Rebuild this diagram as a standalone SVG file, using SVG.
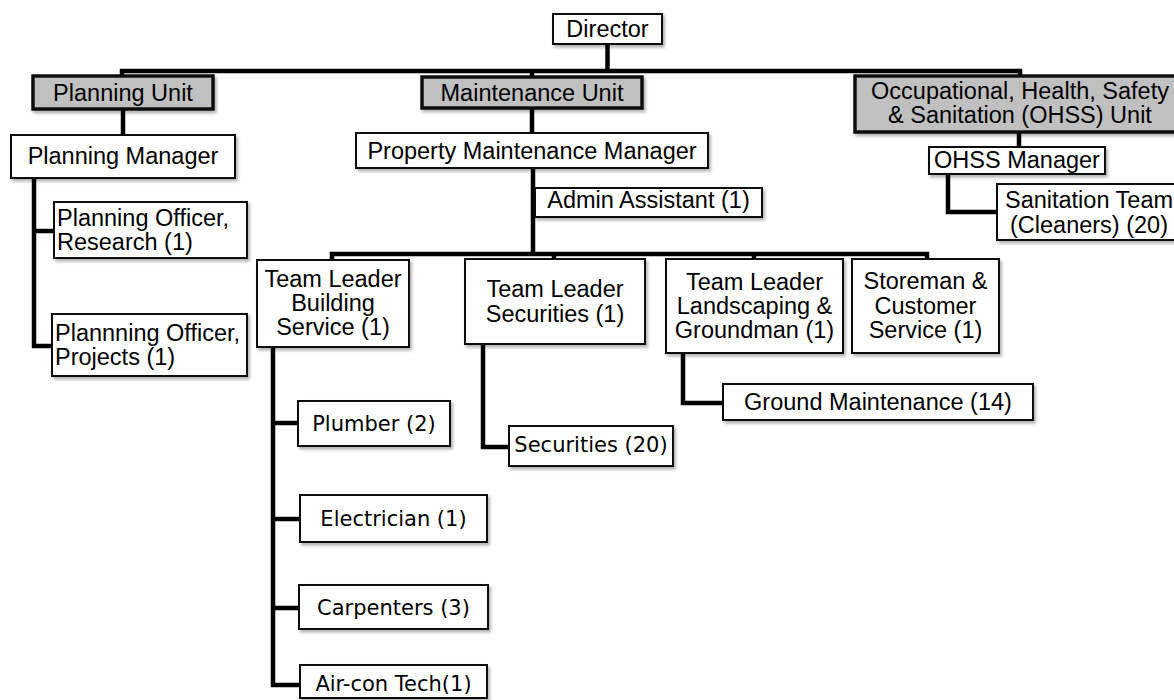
<svg xmlns="http://www.w3.org/2000/svg" width="1174" height="700" viewBox="0 0 1174 700">
<defs>
<filter id="sh" x="-10%" y="-10%" width="130%" height="140%">
<feDropShadow dx="2" dy="2.5" stdDeviation="1.5" flood-color="#000" flood-opacity="0.3"/>
</filter>
<style>
.box{fill:#fff;stroke:#111;stroke-width:2;filter:url(#sh)}
.unit{fill:#c0c0c0;stroke:#111;stroke-width:3.5;filter:url(#sh)}
.t{font-family:"Liberation Sans",Arial,sans-serif;font-size:23.5px;fill:#000;text-anchor:middle}
.l{text-anchor:start}
.j{font-family:"DejaVu Sans",Verdana,sans-serif;font-size:21px;fill:#000;text-anchor:middle}
.c{fill:none;stroke:#000;stroke-width:4.5;stroke-linejoin:miter;stroke-linecap:butt}
</style>
</defs>
<rect width="1174" height="700" fill="#fff"/>
<g id="connectors">
<path class="c" d="M607.5 44 V71"/>
<path class="c" d="M122 77 V71 H1020 V77"/>
<path class="c" d="M532 71 V78"/>
<path class="c" d="M123 109 V135"/>
<path class="c" d="M34 178 V346 H53"/>
<path class="c" d="M34 231 H55"/>
<path class="c" d="M532 108 V133"/>
<path class="c" d="M533 168 V254"/>
<path class="c" d="M332 260 V254 H927 V259"/>
<path class="c" d="M554 254 V259"/>
<path class="c" d="M754 254 V259"/>
<path class="c" d="M273 347 V685 H300"/>
<path class="c" d="M273 423 H298"/>
<path class="c" d="M273 519 H300"/>
<path class="c" d="M273 608 H299"/>
<path class="c" d="M483 344 V447 H509"/>
<path class="c" d="M683 353 V403 H723"/>
<path class="c" d="M1019 132 V147"/>
<path class="c" d="M948 174 V212 H997"/>
</g>
<g id="director"><rect class="box" x="553" y="14" width="109" height="30"/><text class="t" x="607.5" y="37">Director</text></g>
<g id="planning-unit"><rect class="unit" x="33" y="76" width="180" height="33"/><text class="t" x="123" y="101">Planning Unit</text></g>
<g id="maintenance-unit"><rect class="unit" x="422" y="77" width="220" height="31"/><text class="t" x="532" y="101">Maintenance Unit</text></g>
<g id="ohss-unit"><rect class="unit" x="855" y="76" width="332" height="56"/><text class="t" x="1020" y="99">Occupational, Health, Safety</text><text class="t" x="1020" y="123">&amp; Sanitation (OHSS) Unit</text></g>
<g id="planning-manager"><rect class="box" x="11" y="135" width="224" height="43"/><text class="t" x="123" y="164">Planning Manager</text></g>
<g id="officer-research"><rect class="box" x="54" y="202" width="193" height="56"/><text class="t l" x="57" y="226">Planning Officer,</text><text class="t l" x="57" y="250">Research (1)</text></g>
<g id="officer-projects"><rect class="box" x="52" y="314" width="195" height="62"/><text class="t l" x="55" y="341">Plannning Officer,</text><text class="t l" x="55" y="365">Projects (1)</text></g>
<g id="pmm"><rect class="box" x="356" y="133" width="352" height="35"/><text class="t" x="532" y="159">Property Maintenance Manager</text></g>
<g id="admin"><rect class="box" x="535" y="188" width="227" height="29"/><text class="t" x="648.5" y="208">Admin Assistant (1)</text></g>
<g id="ohss-manager"><rect class="box" x="929" y="147" width="176" height="27"/><text class="t" x="1017" y="168">OHSS Manager</text></g>
<g id="sanitation"><rect class="box" x="997" y="184" width="190" height="56"/><text class="t" x="1089" y="208">Sanitation Team</text><text class="t" x="1089" y="233">(Cleaners) (20)</text></g>
<g id="tl-building"><rect class="box" x="257" y="260" width="152" height="87"/><text class="t" x="333" y="287">Team Leader</text><text class="t" x="333" y="311">Building</text><text class="t" x="333" y="335">Service (1)</text></g>
<g id="tl-securities"><rect class="box" x="465" y="259" width="180" height="85"/><text class="t" x="555" y="297">Team Leader</text><text class="t" x="555" y="322">Securities (1)</text></g>
<g id="tl-landscaping"><rect class="box" x="666" y="259" width="177" height="94"/><text class="t" x="754.5" y="290">Team Leader</text><text class="t" x="754.5" y="314">Landscaping &amp;</text><text class="t" x="754.5" y="338">Groundman (1)</text></g>
<g id="storeman"><rect class="box" x="852" y="259" width="147" height="94"/><text class="t" x="925.5" y="289">Storeman &amp;</text><text class="t" x="925.5" y="314">Customer</text><text class="t" x="925.5" y="338">Service (1)</text></g>
<g id="ground"><rect class="box" x="723" y="384" width="310" height="36"/><text class="t" x="878" y="410">Ground Maintenance (14)</text></g>
<g id="securities"><rect class="box" x="509" y="426" width="164" height="40"/><text class="j" x="591" y="452">Securities (20)</text></g>
<g id="plumber"><rect class="box" x="298" y="401" width="152" height="45"/><text class="j" x="374" y="431">Plumber (2)</text></g>
<g id="electrician"><rect class="box" x="300" y="495" width="187" height="47"/><text class="j" x="393.5" y="526">Electrician (1)</text></g>
<g id="carpenters"><rect class="box" x="299" y="585" width="189" height="44"/><text class="j" x="393.5" y="615">Carpenters (3)</text></g>
<g id="aircon"><rect class="box" x="300" y="665" width="187" height="33"/><text class="j" x="393.5" y="691">Air-con Tech(1)</text></g>
</svg>
